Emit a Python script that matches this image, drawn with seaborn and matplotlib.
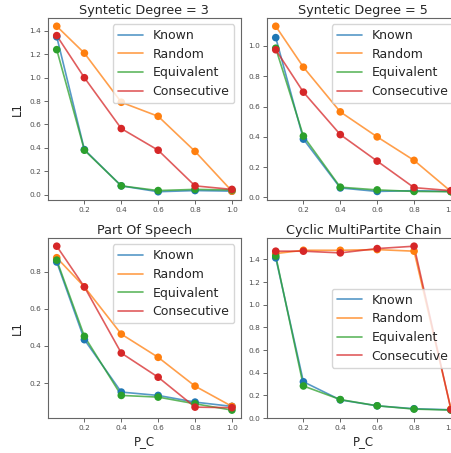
import matplotlib
matplotlib.use("Agg")
import numpy as np
import pandas as pd
import matplotlib.pyplot as plt
import seaborn as sns

# ------------------------------------------------------------
# DATA
# ------------------------------------------------------------

P_C = [0.05, 0.2, 0.4, 0.6, 0.8, 1.0]
METHODS = ['Known', 'Random', 'Equivalent', 'Consecutive']

deg3 = {
    'Known':       [1.35, 0.385, 0.075, 0.025, 0.035, 0.03],
    'Random':      [1.44, 1.21, 0.79, 0.67, 0.37, 0.03],
    'Equivalent':  [1.24, 0.38, 0.075, 0.035, 0.045, 0.04],
    'Consecutive': [1.36, 1.00, 0.565, 0.38, 0.075, 0.045],
}

deg5 = {
    'Known':       [1.055, 0.385, 0.063, 0.04, 0.045, 0.04],
    'Random':      [1.13, 0.86, 0.565, 0.40, 0.245, 0.04],
    'Equivalent':  [0.985, 0.405, 0.068, 0.05, 0.04, 0.038],
    'Consecutive': [0.975, 0.695, 0.415, 0.24, 0.065, 0.045],
}

pos = {
    'Known':       [0.852, 0.434, 0.152, 0.134, 0.098, 0.075],
    'Random':      [0.875, 0.718, 0.464, 0.339, 0.184, 0.075],
    'Equivalent':  [0.862, 0.452, 0.134, 0.125, 0.089, 0.055],
    'Consecutive': [0.937, 0.718, 0.362, 0.232, 0.071, 0.068],
}

cyclic = {
    'Known':       [1.414, 0.32, 0.16, 0.108, 0.082, 0.073],
    'Random':      [1.452, 1.481, 1.481, 1.487, 1.473, 0.08],
    'Equivalent':  [1.43, 0.283, 0.163, 0.108, 0.079, 0.07],
    'Consecutive': [1.473, 1.473, 1.458, 1.496, 1.517, 0.075],
}

TITLES = ['Syntetic Degree = 3', 'Syntetic Degree = 5',
          'Part Of Speech', 'Cyclic MultiPartite Chain']
PANELS = [deg3, deg5, pos, cyclic]
LEGEND_LOC = ['upper right', 'upper right', 'upper right', 'center right']

# ------------------------------------------------------------
# STYLE
# ------------------------------------------------------------

sns.set_style("ticks")
plt.rcParams['font.family'] = ['DejaVu Sans']
plt.rcParams['axes.edgecolor'] = '0.4'
plt.rcParams['xtick.color'] = '0.4'
plt.rcParams['ytick.color'] = '0.4'
plt.rcParams['xtick.labelcolor'] = '0.3'
plt.rcParams['ytick.labelcolor'] = '0.3'

palette = sns.color_palette('tab10', 4)

fig = plt.figure(figsize=(4.51, 4.53), dpi=100)

# axes placed by hand, the right column runs past the figure edge
boxes = [
    [0.1064, 0.5585, 0.4273, 0.4018],
    [0.5920, 0.5585, 0.4273, 0.4018],
    [0.1064, 0.0766, 0.4273, 0.3980],
    [0.5920, 0.0766, 0.4273, 0.3980],
]

for i, (data, title) in enumerate(zip(PANELS, TITLES)):

    ax = fig.add_axes(boxes[i])

    df = pd.DataFrame([
        {'P_C': x, 'L1': v, 'method': m}
        for m in METHODS
        for x, v in zip(P_C, data[m])
    ])

    sns.lineplot(
        data=df, x='P_C', y='L1', hue='method',
        hue_order=METHODS, palette=palette,
        alpha=0.75, linewidth=1.2, ax=ax
    )
    sns.scatterplot(
        data=df, x='P_C', y='L1', hue='method',
        hue_order=METHODS, palette=palette,
        s=30, edgecolor='none', legend=False, ax=ax, zorder=3
    )

    ax.set_title(title, fontsize=9.2, pad=3)
    ax.tick_params(labelsize=5.3, length=3, width=0.7, pad=2)
    for sp in ax.spines.values():
        sp.set_linewidth(0.8)

    ax.set_xticks([0.2, 0.4, 0.6, 0.8, 1.0])

    if i % 2 == 0:
        ax.set_ylabel('L1', fontsize=8.5, labelpad=4)
    else:
        ax.set_ylabel('')

    if i >= 2:
        ax.set_xlabel('P_C', fontsize=8.5, labelpad=3)
    else:
        ax.set_xlabel('')

    ax.legend(loc=LEGEND_LOC[i], fontsize=9.0, title=None,
              framealpha=0.8, borderaxespad=0.5, labelspacing=0.45)

fig.savefig("out.png", dpi=100)
